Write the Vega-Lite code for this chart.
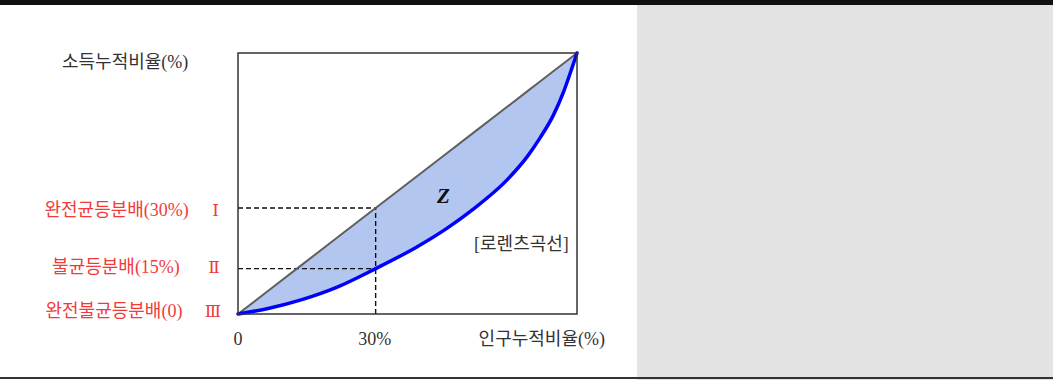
{
  "$schema": "https://vega.github.io/schema/vega-lite/v6.json",
  "width": 1053,
  "height": 380,
  "autosize": {"type": "none"},
  "padding": 0,
  "background": "white",
  "config": {
    "view": {"stroke": null},
    "font": "Liberation Serif, Noto Sans CJK KR"
  },
  "datasets": {
    "curve": [
      {"share": 0, "equal": 0, "income": 0},
      {"share": 9.2, "equal": 9.2, "income": 2.2},
      {"share": 19.1, "equal": 19.1, "income": 5.6},
      {"share": 28.9, "equal": 28.9, "income": 10.1},
      {"share": 40.6, "equal": 40.6, "income": 17.4},
      {"share": 52.5, "equal": 52.5, "income": 25.5},
      {"share": 61.6, "equal": 61.6, "income": 32.8},
      {"share": 69.4, "equal": 69.4, "income": 40.2},
      {"share": 79.3, "equal": 79.3, "income": 51.3},
      {"share": 85.2, "equal": 85.2, "income": 60.1},
      {"share": 89.1, "equal": 89.1, "income": 67.5},
      {"share": 93.0, "equal": 93.0, "income": 76.1},
      {"share": 96.0, "equal": 96.0, "income": 85.0},
      {"share": 98.4, "equal": 98.4, "income": 93.8},
      {"share": 100, "equal": 100, "income": 100}
    ],
    "guide": [
      {"origin": 0, "pop": 40.6, "equalIncome": 40.6, "lorenzIncome": 17.4}
    ],
    "notes": [
      {"label": "소득누적비율(%)", "x": -33.3, "y": 96.2},
      {"label": "0", "x": 0, "y": -10},
      {"label": "30%", "x": 40.3, "y": -10},
      {"label": "인구누적비율(%)", "x": 89.6, "y": -10},
      {"label": "[로렌츠곡선]", "x": 83.6, "y": 26.4}
    ],
    "levels": [
      {"label": "완전균등분배(30%)", "x": -35.8, "y": 39.5},
      {"label": "불균등분배(15%)", "x": -36.0, "y": 17.8},
      {"label": "완전불균등분배(0)", "x": -36.6, "y": 0.8}
    ],
    "numerals": [
      {"label": "Ⅰ", "x": -6.6, "y": 39.5},
      {"label": "Ⅱ", "x": -7.1, "y": 17.8},
      {"label": "Ⅲ", "x": -7.4, "y": 0.8}
    ],
    "region": [
      {"label": "Z", "x": 60.6, "y": 44.9}
    ]
  },
  "data": {"name": "curve"},
  "layer": [
    {
      "mark": {"type": "rule", "color": "#e3e3e3", "strokeWidth": 416},
      "encoding": {
        "x": {"datum": 179.06, "type": "quantitative", "scale": {"domain": [-70.21, 240.41], "nice": false, "zero": false}, "axis": null}
      }
    },
    {
      "mark": {"type": "rule", "color": "#111111", "strokeWidth": 4.5},
      "encoding": {
        "y": {"datum": 119.35, "type": "quantitative", "scale": {"domain": [-25.29, 120.31], "nice": false, "zero": false}, "axis": null}
      }
    },
    {
      "mark": {"type": "rule", "color": "#333333", "strokeWidth": 1.5},
      "encoding": {
        "y": {"datum": -24.64, "type": "quantitative", "scale": {"domain": [-25.29, 120.31], "nice": false, "zero": false}, "axis": null}
      }
    },
    {
      "mark": {"type": "area", "fill": "#b3c6f0", "interpolate": "monotone"},
      "encoding": {
        "x": {"field": "share", "type": "quantitative", "scale": {"domain": [-70.21, 240.41], "nice": false, "zero": false}, "axis": null},
        "y": {"field": "equal", "type": "quantitative", "scale": {"domain": [-25.29, 120.31], "nice": false, "zero": false}, "axis": null, "stack": null},
        "y2": {"field": "income"}
      }
    },
    {
      "data": {"name": "guide"},
      "mark": {"type": "rule", "color": "#111111", "strokeWidth": 1.4, "strokeDash": [5, 3]},
      "encoding": {
        "x": {"field": "origin", "type": "quantitative", "scale": {"domain": [-70.21, 240.41], "nice": false, "zero": false}, "axis": null},
        "x2": {"field": "pop"},
        "y": {"field": "equalIncome", "type": "quantitative", "scale": {"domain": [-25.29, 120.31], "nice": false, "zero": false}, "axis": null}
      }
    },
    {
      "data": {"name": "guide"},
      "mark": {"type": "rule", "color": "#111111", "strokeWidth": 1.4, "strokeDash": [5, 3]},
      "encoding": {
        "x": {"field": "origin", "type": "quantitative", "scale": {"domain": [-70.21, 240.41], "nice": false, "zero": false}, "axis": null},
        "x2": {"field": "pop"},
        "y": {"field": "lorenzIncome", "type": "quantitative", "scale": {"domain": [-25.29, 120.31], "nice": false, "zero": false}, "axis": null}
      }
    },
    {
      "data": {"name": "guide"},
      "mark": {"type": "rule", "color": "#111111", "strokeWidth": 1.4, "strokeDash": [5, 3]},
      "encoding": {
        "x": {"field": "pop", "type": "quantitative", "scale": {"domain": [-70.21, 240.41], "nice": false, "zero": false}, "axis": null},
        "y": {"field": "origin", "type": "quantitative", "scale": {"domain": [-25.29, 120.31], "nice": false, "zero": false}, "axis": null},
        "y2": {"field": "equalIncome"}
      }
    },
    {
      "mark": {"type": "line", "color": "#5f5f5f", "strokeWidth": 2},
      "encoding": {
        "x": {"field": "share", "type": "quantitative", "scale": {"domain": [-70.21, 240.41], "nice": false, "zero": false}, "axis": null},
        "y": {"field": "equal", "type": "quantitative", "scale": {"domain": [-25.29, 120.31], "nice": false, "zero": false}, "axis": null}
      }
    },
    {
      "mark": {"type": "line", "color": "#0000ff", "strokeWidth": 3.5, "interpolate": "monotone", "strokeCap": "round"},
      "encoding": {
        "x": {"field": "share", "type": "quantitative", "scale": {"domain": [-70.21, 240.41], "nice": false, "zero": false}, "axis": null},
        "y": {"field": "income", "type": "quantitative", "scale": {"domain": [-25.29, 120.31], "nice": false, "zero": false}, "axis": null}
      }
    },
    {
      "mark": {"type": "rect", "fill": "transparent", "stroke": "#333333", "strokeWidth": 1.5},
      "encoding": {
        "x": {"aggregate": "min", "field": "share", "type": "quantitative", "scale": {"domain": [-70.21, 240.41], "nice": false, "zero": false}, "axis": null},
        "x2": {"aggregate": "max", "field": "share"},
        "y": {"aggregate": "min", "field": "income", "type": "quantitative", "scale": {"domain": [-25.29, 120.31], "nice": false, "zero": false}, "axis": null},
        "y2": {"aggregate": "max", "field": "income"}
      }
    },
    {
      "data": {"name": "notes"},
      "mark": {"type": "text", "color": "#333333", "fontSize": 18, "align": "center", "baseline": "middle"},
      "encoding": {
        "x": {"field": "x", "type": "quantitative", "scale": {"domain": [-70.21, 240.41], "nice": false, "zero": false}, "axis": null},
        "y": {"field": "y", "type": "quantitative", "scale": {"domain": [-25.29, 120.31], "nice": false, "zero": false}, "axis": null},
        "text": {"field": "label", "type": "nominal"}
      }
    },
    {
      "data": {"name": "levels"},
      "mark": {"type": "text", "color": "#f23a3a", "fontSize": 18, "align": "center", "baseline": "middle"},
      "encoding": {
        "x": {"field": "x", "type": "quantitative", "scale": {"domain": [-70.21, 240.41], "nice": false, "zero": false}, "axis": null},
        "y": {"field": "y", "type": "quantitative", "scale": {"domain": [-25.29, 120.31], "nice": false, "zero": false}, "axis": null},
        "text": {"field": "label", "type": "nominal"}
      }
    },
    {
      "data": {"name": "numerals"},
      "mark": {"type": "text", "color": "#f23a3a", "fontSize": 17, "align": "center", "baseline": "middle", "font": "DejaVu Serif, Noto Sans CJK KR"},
      "encoding": {
        "x": {"field": "x", "type": "quantitative", "scale": {"domain": [-70.21, 240.41], "nice": false, "zero": false}, "axis": null},
        "y": {"field": "y", "type": "quantitative", "scale": {"domain": [-25.29, 120.31], "nice": false, "zero": false}, "axis": null},
        "text": {"field": "label", "type": "nominal"}
      }
    },
    {
      "data": {"name": "region"},
      "mark": {"type": "text", "color": "#111111", "fontSize": 21, "fontStyle": "italic", "fontWeight": "bold", "align": "center", "baseline": "middle", "font": "Liberation Serif"},
      "encoding": {
        "x": {"field": "x", "type": "quantitative", "scale": {"domain": [-70.21, 240.41], "nice": false, "zero": false}, "axis": null},
        "y": {"field": "y", "type": "quantitative", "scale": {"domain": [-25.29, 120.31], "nice": false, "zero": false}, "axis": null},
        "text": {"field": "label", "type": "nominal"}
      }
    }
  ]
}
